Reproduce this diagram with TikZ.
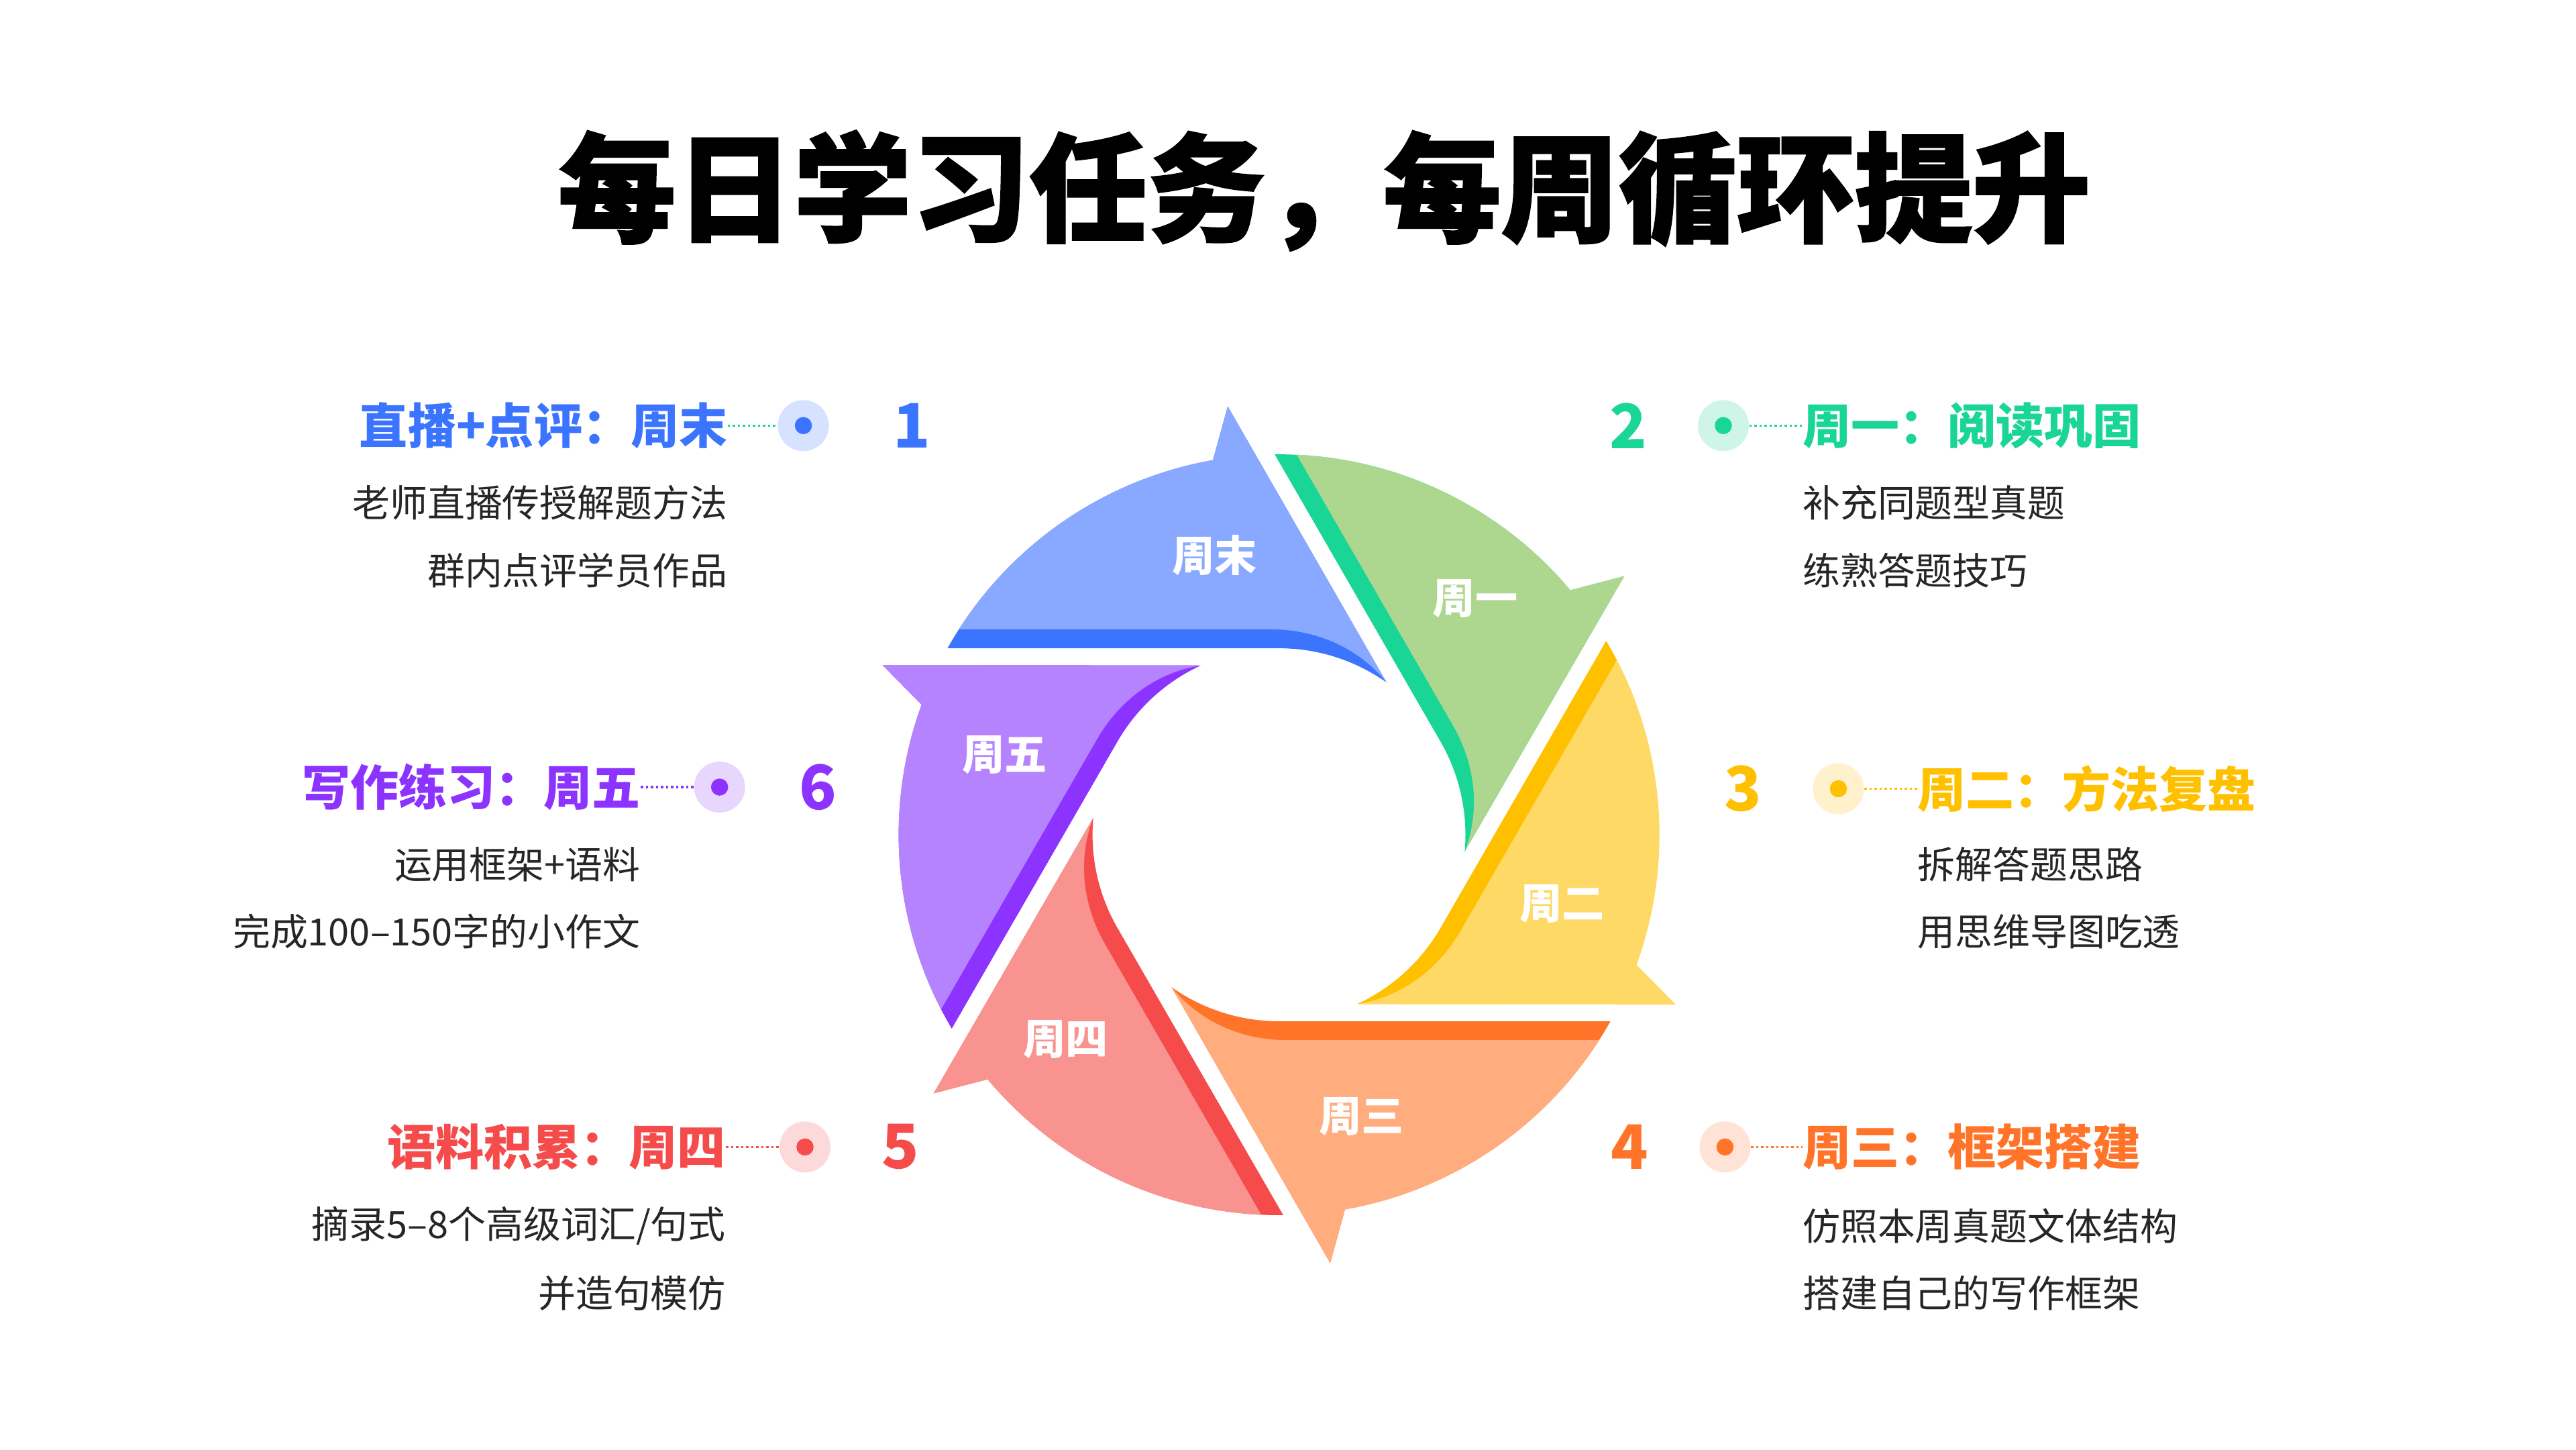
\documentclass[tikz,border=0pt]{standalone}
\usepackage{fontspec}
\setmainfont{Noto Sans CJK SC}
\newfontfamily\titlefont[BoldFeatures={FakeBold=1.6}]{Noto Sans CJK SC}
\definecolor{bluelt}{HTML}{88A9FF}\definecolor{bluedk}{HTML}{3B74FF}\definecolor{bluehl}{HTML}{D6E2FF}
\definecolor{greenlt}{HTML}{ADD78F}\definecolor{greendk}{HTML}{19D596}\definecolor{greenhl}{HTML}{CFF5E8}
\definecolor{yellowlt}{HTML}{FFD966}\definecolor{yellowdk}{HTML}{FFC000}\definecolor{yellowhl}{HTML}{FFF1CC}
\definecolor{orangelt}{HTML}{FFAD7F}\definecolor{orangedk}{HTML}{FF7429}\definecolor{orangehl}{HTML}{FFE3D6}
\definecolor{redlt}{HTML}{F89390}\definecolor{reddk}{HTML}{F54B4B}\definecolor{redhl}{HTML}{FDDADA}
\definecolor{purplelt}{HTML}{B683FF}\definecolor{purpledk}{HTML}{8C33FF}\definecolor{purplehl}{HTML}{E8D6FF}
\definecolor{textgray}{HTML}{262626}
\begin{document}
\begin{tikzpicture}[
 x=.2449mm,y=.2449mm,
 weekday/.style={text=white,inner sep=0pt,font=\bfseries\fontsize{18}{18}\selectfont},
 num/.style={inner sep=0pt,font=\bfseries\fontsize{26}{26}\selectfont},
 head/.style={inner sep=0pt,font=\bfseries\fontsize{20.5}{20.5}\selectfont},
 body/.style={text=textgray,inner sep=0pt,font=\fontsize{15.9}{15.9}\selectfont},
 halo/.style={circle,minimum size=7.6mm,inner sep=0pt},
 core/.style={circle,minimum size=2.55mm,inner sep=0pt},
 dotline/.style={line width=.35mm,dash pattern=on .35mm off .4mm}]
 \fill[white] (0,0) rectangle (1568,882);
 \useasboundingbox (0,0) rectangle (1568,882);
 % Title.
 \node[inner sep=0pt,font=\titlefont\bfseries\fontsize{50}{50}\selectfont] (title) at (806,766)
   {每日学习任务，每周循环提升};
 % Six blades of the weekly cycle, turned by 60 degrees each.
 \foreach \k/\lite/\dark in {0/bluelt/bluedk,1/greenlt/greendk,2/yellowlt/yellowdk,
                             3/orangelt/orangedk,4/redlt/reddk,5/purplelt/purpledk}{
  \begin{scope}[shift={(778.5,374)},rotate=-60*\k]
   \fill[\dark] (150.64:231.5) arc[start angle=150.64,end angle=100,radius=231.5]
     -- (-31.2,260.7) -- (54.8:113.5) arc[start angle=54.8,end angle=90,radius=113.5] -- cycle;
   \fill[\lite] (147.32:231.5) arc[start angle=147.32,end angle=100,radius=231.5]
     -- (-31.2,260.7) -- (54.8:113.5) .. controls (50,112) and (25,125) .. (-5,125) -- cycle;
  \end{scope}
 }
 \begin{scope}[shift={(778.5,374)}]
  \foreach \a/\r/\t [count=\i] in {103/174.7/周末,50.3/187/周一,-13.7/177.4/周二,
                                   -73.7/178.8/周三,-136.2/180/周四,163.8/173.8/周五}{
   \node[weekday] (lab\i) at (\a:\r) {\t};
  }
 \end{scope}
 % Left column: 1, 6, 5.
 \node[halo,fill=bluehl] (dot1) at (489,623) {};
 \node[core,fill=bluedk] (core1) at (dot1) {};
 \node[num,text=bluedk] (num1) at (555,623) {1};
 \node[head,text=bluedk,anchor=east] (head1) at (443,623) {直播+点评：周末};
 \node[body,anchor=east] (body1a) at (443,576) {老师直播传授解题方法};
 \node[body,anchor=east] (body1b) at (443,535) {群内点评学员作品};
 \draw[dotline,greendk] (head1) -- (dot1);

 \node[halo,fill=purplehl] (dot6) at (438,403) {};
 \node[core,fill=purpledk] (core6) at (dot6) {};
 \node[num,text=purpledk] (num6) at (498,403) {6};
 \node[head,text=purpledk,anchor=east] (head6) at (390,403) {写作练习：周五};
 \node[body,anchor=east] (body6a) at (390,356) {运用框架+语料};
 \node[body,anchor=east] (body6b) at (390,315) {完成100–150字的小作文};
 \draw[dotline,purpledk] (head6) -- (dot6);

 \node[halo,fill=redhl] (dot5) at (490,184) {};
 \node[core,fill=reddk] (core5) at (dot5) {};
 \node[num,text=reddk] (num5) at (548,184) {5};
 \node[head,text=reddk,anchor=east] (head5) at (442,184) {语料积累：周四};
 \node[body,anchor=east] (body5a) at (442,136) {摘录5–8个高级词汇/句式};
 \node[body,anchor=east] (body5b) at (442,95) {并造句模仿};
 \draw[dotline,reddk] (head5) -- (dot5);
 % Right column: 2, 3, 4.
 \node[halo,fill=greenhl] (dot2) at (1049,623) {};
 \node[core,fill=greendk] (core2) at (dot2) {};
 \node[num,text=greendk] (num2) at (991,623) {2};
 \node[head,text=greendk,anchor=west] (head2) at (1097,623) {周一：阅读巩固};
 \node[body,anchor=west] (body2a) at (1097,576) {补充同题型真题};
 \node[body,anchor=west] (body2b) at (1097,535) {练熟答题技巧};
 \draw[dotline,greendk] (dot2) -- (head2);

 \node[halo,fill=yellowhl] (dot3) at (1119,402) {};
 \node[core,fill=yellowdk] (core3) at (dot3) {};
 \node[num,text=yellowdk] (num3) at (1061,402) {3};
 \node[head,text=yellowdk,anchor=west] (head3) at (1167,402) {周二：方法复盘};
 \node[body,anchor=west] (body3a) at (1167,356) {拆解答题思路};
 \node[body,anchor=west] (body3b) at (1167,315) {用思维导图吃透};
 \draw[dotline,yellowdk] (dot3) -- (head3);

 \node[halo,fill=orangehl] (dot4) at (1050,184) {};
 \node[core,fill=orangedk] (core4) at (dot4) {};
 \node[num,text=orangedk] (num4) at (992,184) {4};
 \node[head,text=orangedk,anchor=west] (head4) at (1097,184) {周三：框架搭建};
 \node[body,anchor=west] (body4a) at (1097,136) {仿照本周真题文体结构};
 \node[body,anchor=west] (body4b) at (1097,95) {搭建自己的写作框架};
 \draw[dotline,orangedk] (dot4) -- (head4);
\end{tikzpicture}
\end{document}
